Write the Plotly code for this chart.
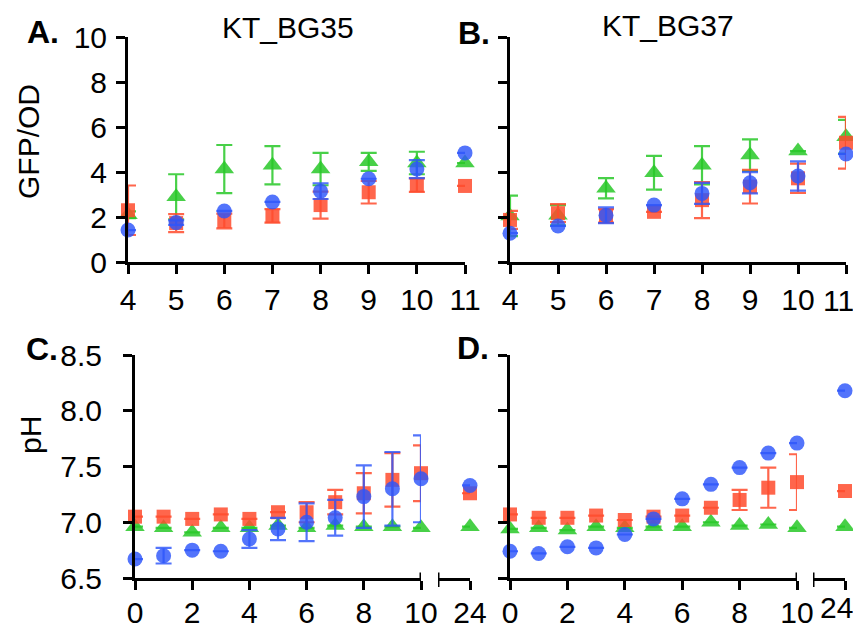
import plotly.graph_objects as go

W, H = 853, 628
FONT = "Liberation Sans, Arial, sans-serif"

# ---- GFP/OD time course (hours 4-11) ----
gfp_hours = [4, 5, 6, 7, 8, 9, 10, 11]

bg35_green = [2.1, 2.9, 4.13, 4.3, 4.13, 4.45, 4.4, 4.4]
bg35_green_err = [0.15, 1.0, 1.07, 0.85, 0.72, 0.4, 0.5, None]
bg35_red = [2.3, 1.73, 1.82, 2.05, 2.53, 3.1, 3.42, 3.38]
bg35_red_err = [1.1, 0.4, 0.33, 0.3, 0.6, 0.5, 0.3, None]
bg35_blue = [1.42, 1.75, 2.27, 2.67, 3.15, 3.7, 4.13, 4.85]
bg35_blue_err = [None, 0.1, None, None, 0.35, None, 0.4, None]

bg37_green = [2.05, 2.08, 3.28, 3.97, 4.3, 4.75, 4.93, 5.57]
bg37_green_err = [0.9, 0.45, 0.45, 0.75, 0.85, 0.7, None, 0.75]
bg37_red = [1.87, 2.17, 2.05, 2.23, 2.75, 3.35, 3.72, 5.3]
bg37_red_err = [0.4, 0.4, 0.3, None, 0.8, 0.75, 0.65, 1.15]
bg37_blue = [1.28, 1.6, 2.08, 2.53, 3.05, 3.52, 3.82, 4.8]
bg37_blue_err = [None, None, 0.35, None, 0.47, 0.47, 0.65, None]

# ---- pH time course (hours 0-10 and 24) ----
ph_hours = [0, 1, 2, 3, 4, 5, 6, 7, 8, 9, 10, 24]

c_red = [7.05, 7.05, 7.03, 7.07, 7.03, 7.09, 7.09, 7.18, 7.26, 7.38, 7.44, 7.26]
c_red_err = [None, None, None, None, None, None, 0.09, 0.11, 0.18, 0.24, 0.25, None]
c_green = [6.96, 6.95, 6.91, 6.95, 6.95, 6.97, 6.95, 6.97, 6.96, 6.96, 6.95, 6.96]
c_green_err = [None] * 12
c_blue = [6.67, 6.7, 6.75, 6.74, 6.85, 6.94, 7.0, 7.04, 7.23, 7.3, 7.39, 7.33]
c_blue_err = [None, 0.07, None, None, 0.08, 0.1, 0.17, 0.16, 0.28, 0.33, 0.39, None]

d_red = [7.07, 7.04, 7.04, 7.06, 7.02, 7.05, 7.06, 7.13, 7.2, 7.31, 7.36, 7.28]
d_red_err = [None, None, None, None, None, None, None, None, 0.09, 0.18, 0.25, None]
d_green = [6.94, 6.95, 6.93, 6.96, 6.95, 6.96, 6.96, 7.0, 6.97, 6.98, 6.95, 6.96]
d_green_err = [None] * 12
d_blue = [6.74, 6.72, 6.78, 6.77, 6.89, 7.03, 7.21, 7.34, 7.49, 7.62, 7.71, 8.18]
d_blue_err = [None] * 12

gfp_ticks = [0, 2, 4, 6, 8, 10]
ph_ticks = [6.5, 7.0, 7.5, 8.0, 8.5]
ph_xticks = [0, 2, 4, 6, 8, 10]
late_tick = [24]

GREEN = "rgba(40,200,40,0.85)"
RED = "rgba(255,75,45,0.85)"
BLUE = "rgba(45,85,250,0.82)"

STYLE = {
    "green": dict(color=GREEN, symbol="triangle-up", size=17),
    "red": dict(color=RED, symbol="square", size=14),
    "blue": dict(color=BLUE, symbol="circle", size=15),
}


def px_x(p):
    return p / W


def px_y(p):
    return 1 - p / H


fig = go.Figure()


def add_series(xs, ys, errs, name, xa, ya):
    st = STYLE[name]
    fig.add_trace(go.Scatter(
        x=xs, y=ys, mode="markers", xaxis=xa, yaxis=ya,
        marker=dict(color=st["color"], symbol=st["symbol"], size=st["size"],
                    line=dict(width=0)),
        error_y=dict(type="data", array=errs, visible=True, color=st["color"],
                     thickness=2.2, width=8),
        cliponaxis=False, showlegend=False, hoverinfo="x+y",
    ))


# top panels: green drawn first, then red, then blue on top
for xa, ya, series in [
    ("x", "y", [(bg35_green, bg35_green_err, "green"), (bg35_red, bg35_red_err, "red"),
                (bg35_blue, bg35_blue_err, "blue")]),
    ("x2", "y2", [(bg37_green, bg37_green_err, "green"), (bg37_red, bg37_red_err, "red"),
                  (bg37_blue, bg37_blue_err, "blue")]),
]:
    for ys, errs, name in series:
        add_series(gfp_hours, ys, errs, name, xa, ya)

# bottom panels: hours 0-10 on the main axis, 24 h on the broken segment
for xa, xb, ya, series in [
    ("x3", "x5", "y3", [(c_green, c_green_err, "green"), (c_red, c_red_err, "red"),
                        (c_blue, c_blue_err, "blue")]),
    ("x4", "x6", "y4", [(d_green, d_green_err, "green"), (d_red, d_red_err, "red"),
                        (d_blue, d_blue_err, "blue")]),
]:
    for ys, errs, name in series:
        main = [i for i, h in enumerate(ph_hours) if h <= 10]
        late = [i for i, h in enumerate(ph_hours) if h > 10]
        add_series([ph_hours[i] for i in main], [ys[i] for i in main],
                   [errs[i] for i in main], name, xa, ya)
        add_series([ph_hours[i] for i in late], [ys[i] for i in late],
                   [errs[i] for i in late], name, xb, ya)


def axis(**kw):
    base = dict(showline=True, linecolor="black", linewidth=3, ticks="outside",
                tickcolor="black", tickwidth=3, ticklen=9, showgrid=False,
                zeroline=False, automargin=False, ticklabeloverflow="allow",
                tickfont=dict(family=FONT, size=30, color="black"))
    base.update(kw)
    return base


top_y = [px_y(262), px_y(37)]
bot_y = [px_y(578), px_y(355)]

# labels of the last tick on the right-hand panels are nudged inward (annotations below)
b_ticktext = [str(h) if h != gfp_hours[-1] else "" for h in gfp_hours]

fig.update_layout(
    width=W, height=H, margin=dict(l=0, r=0, t=0, b=0, pad=0),
    paper_bgcolor="white", plot_bgcolor="white", showlegend=False,
    xaxis=axis(domain=[px_x(128), px_x(465)], range=[4, 11], anchor="y",
               tickvals=gfp_hours),
    yaxis=axis(domain=top_y, range=[0, 10], anchor="x", tickvals=gfp_ticks,
               ticklabelstandoff=3),
    xaxis2=axis(domain=[px_x(510), px_x(846)], range=[4, 11], anchor="y2",
                tickvals=gfp_hours, ticktext=b_ticktext),
    yaxis2=axis(domain=top_y, range=[0, 10], anchor="x2", tickvals=gfp_ticks,
                showticklabels=False),
    xaxis3=axis(domain=[px_x(135), px_x(421)], range=[0, 10], anchor="y3",
                tickvals=ph_xticks, ticklabelstandoff=-3),
    yaxis3=axis(domain=bot_y, range=[6.5, 8.5], anchor="x3", tickvals=ph_ticks,
                tickformat=".1f", ticklabelstandoff=15),
    xaxis4=axis(domain=[px_x(510), px_x(797)], range=[0, 10], anchor="y4",
                tickvals=ph_xticks, ticklabelstandoff=-3),
    yaxis4=axis(domain=bot_y, range=[6.5, 8.5], anchor="x4", tickvals=ph_ticks,
                showticklabels=False),
    xaxis5=axis(domain=[px_x(438), px_x(470)], range=[23, 24], anchor="y3",
                tickvals=late_tick, ticklabelstandoff=-3),
    xaxis6=axis(domain=[px_x(813), px_x(845)], range=[23, 24], anchor="y4",
                tickvals=late_tick, showticklabels=False),
)

# axis-break marks at the end of the 0-10 h segment and start of the 24 h segment
for xref, xv, y0 in [("x3", 10, 0.0), ("x4", 10, 0.0), ("x5", 23, -0.04), ("x6", 23, -0.04)]:
    yref = "y3 domain" if xref in ("x3", "x5") else "y4 domain"
    fig.add_shape(type="line", xref=xref, yref=yref, x0=xv, x1=xv, y0=y0, y1=0.025,
                  line=dict(color="black", width=3))

ann = []
for text, x, y, size, bold in [
    ("A.", 43, 32, 32, True), ("B.", 474, 33, 32, True),
    ("C.", 42, 349, 32, True), ("D.", 473, 348, 32, True),
    ("KT_BG35", 288, 27, 30, False), ("KT_BG37", 668, 26, 30, False),
]:
    ann.append(dict(text=f"<b>{text}</b>" if bold else text, x=px_x(x), y=px_y(y),
                    xref="paper", yref="paper", showarrow=False,
                    xanchor="center", yanchor="middle",
                    font=dict(family=FONT, size=size, color="black")))
for text, x, y in [("GFP/OD", 28, 142), ("pH", 30, 435)]:
    ann.append(dict(text=text, x=px_x(x), y=px_y(y), xref="paper", yref="paper",
                    showarrow=False, textangle=-90, xanchor="center", yanchor="middle",
                    font=dict(family=FONT, size=30, color="black")))
for val, xref, ypx, shift in [(gfp_hours[-1], "x2", 300, -8), (late_tick[0], "x6", 607, -9)]:
    ann.append(dict(text=str(val), x=val, xref=xref, y=px_y(ypx), yref="paper",
                    xshift=shift, showarrow=False, xanchor="center", yanchor="middle",
                    font=dict(family=FONT, size=30, color="black")))
fig.update_layout(annotations=ann)

fig.write_html("out.html")
